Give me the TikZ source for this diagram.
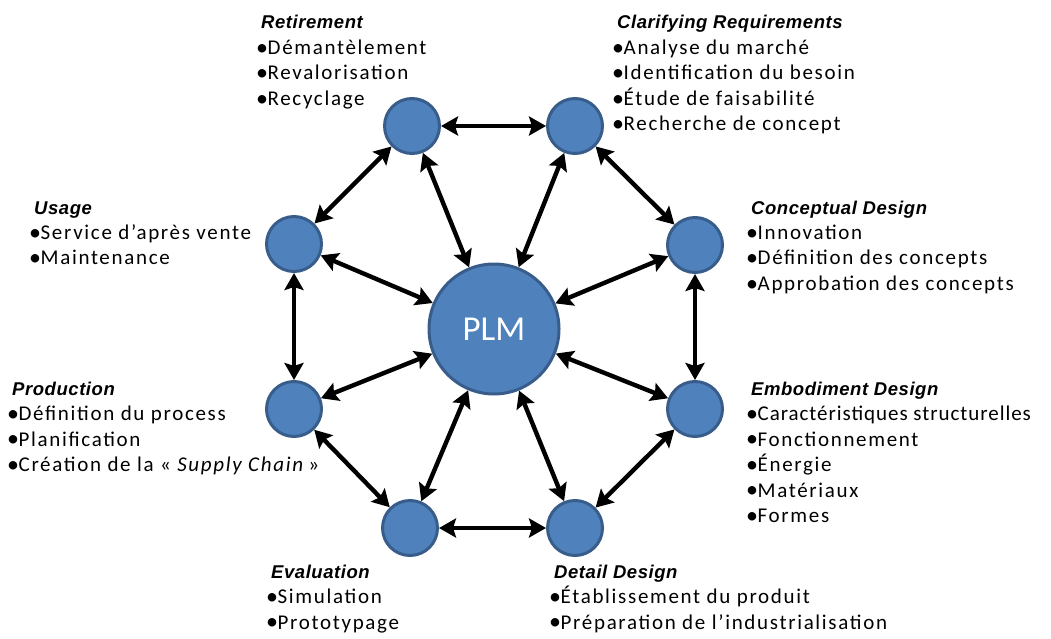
\documentclass[tikz,border=0pt]{standalone}
\usepackage{fontspec}
\setmainfont{Carlito}[LetterSpace=8]
\newfontfamily\headfont{Liberation Sans}[LetterSpace=3]
\newfontfamily\plmfont{Carlito}
\usetikzlibrary{arrows.meta}
\definecolor{cfill}{HTML}{4F81BD}
\definecolor{cedge}{HTML}{385D8A}
\newcommand\myhead[1]{\hspace{5pt}{\headfont\bfseries\itshape\fontsize{18.5}{25.5}\selectfont #1}}
\newcommand\bl{\raisebox{-0.6pt}{\plmfont\fontsize{24}{25}\selectfont•}\kern-0.5pt}
\begin{document}
\begin{tikzpicture}[x=1pt,y=-1pt,
  small/.style={circle,fill=cfill,draw=cedge,line width=3pt,minimum size=55pt,inner sep=0pt},
  big/.style={circle,fill=cfill,draw=cedge,line width=3pt,minimum size=130pt,inner sep=0pt,text=white,font=\plmfont\fontsize{35}{40}\selectfont},
  arr/.style={line width=4.4pt,{Stealth[length=17pt,width=19pt,inset=3pt]}-{Stealth[length=17pt,width=19pt,inset=3pt]}},
  lbl/.style={anchor=base west,inner sep=0pt,font=\fontsize{21}{25.5}\selectfont}]
\useasboundingbox (0,0) rectangle (1051,639);
\node[big] (plm) at (494,329) {PLM};
\node[small] (ret) at (412,126) {};
\node[small] (cla) at (575,126) {};
\node[small] (con) at (695,245) {};
\node[small] (emb) at (695,409) {};
\node[small] (det) at (575,528) {};
\node[small] (eva) at (410,528) {};
\node[small] (pro) at (294,409) {};
\node[small] (usa) at (294,244) {};
\foreach \a/\b in {ret/cla,cla/con,con/emb,emb/det,det/eva,eva/pro,pro/usa,usa/ret}
  \draw[arr] (\a) -- (\b);
\foreach \a in {ret,cla,con,emb,det,eva,pro,usa}
  \draw[arr] (\a) -- (plm);
\node[lbl] (tret) at (256,29) {\begin{tabular}[t]{@{}l@{}}\myhead{Retirement}\\ \bl Démantèlement\\ \bl Revalorisation\\ \bl Recyclage\end{tabular}};
\node[lbl] (tcla) at (612,29) {\begin{tabular}[t]{@{}l@{}}\myhead{Clarifying Requirements}\\ \bl Analyse du marché\\ \bl Identification du besoin\\ \bl Étude de faisabilité\\ \bl Recherche de concept\end{tabular}};
\node[lbl] (tusa) at (29,214) {\begin{tabular}[t]{@{}l@{}}\myhead{Usage}\\ \bl Service d’après vente\\ \bl Maintenance\end{tabular}};
\node[lbl] (tcon) at (746,214) {\begin{tabular}[t]{@{}l@{}}\myhead{Conceptual Design}\\ \bl Innovation\\ \bl Définition des concepts\\ \bl Approbation des concepts\end{tabular}};
\node[lbl] (tpro) at (7,395) {\begin{tabular}[t]{@{}l@{}}\myhead{Production}\\ \bl Définition du process\\ \bl Planification\\ \bl Création de la « \textit{Supply Chain}\,»\end{tabular}};
\node[lbl] (temb) at (746,395) {\begin{tabular}[t]{@{}l@{}}\myhead{Embodiment Design}\\ \bl {\addfontfeature{LetterSpace=4.5}Caractéristiques structurelles}\\ \bl Fonctionnement\\ \bl Énergie\\ \bl Matériaux\\ \bl Formes\end{tabular}};
\node[lbl] (teva) at (266,578) {\begin{tabular}[t]{@{}l@{}}\myhead{Evaluation}\\ \bl Simulation\\ \bl Prototypage\end{tabular}};
\node[lbl] (tdet) at (549,578) {\begin{tabular}[t]{@{}l@{}}\myhead{Detail Design}\\ \bl Établissement du produit\\ \bl Préparation de l’industrialisation\end{tabular}};
\end{tikzpicture}
\end{document}
